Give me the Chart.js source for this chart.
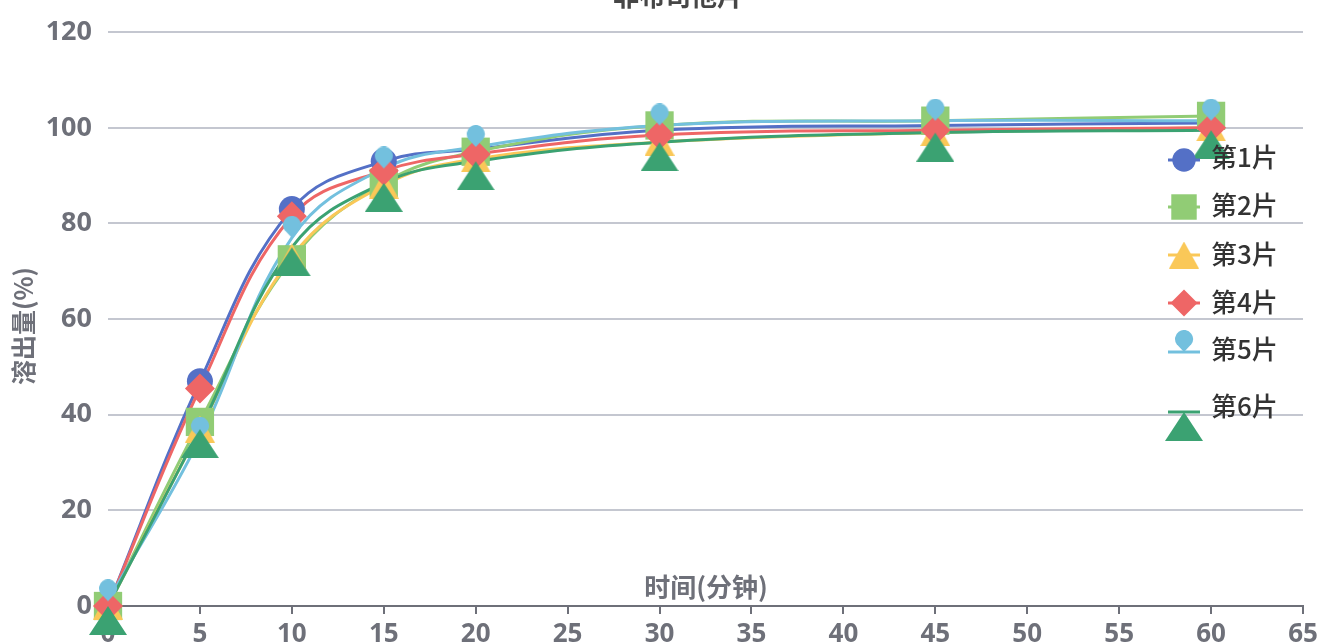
<!DOCTYPE html>
<html>
<head>
<meta charset="utf-8">
<script src="https://cdn.jsdelivr.net/npm/chart.js@4.4.0/dist/chart.umd.min.js"></script>
<style>
html, body { margin: 0; padding: 0; background: #fff; }
</style>
</head>
<body>
<canvas id="myChart" width="1323" height="644"></canvas>
<script>
// dissolution data
var times = [0, 5, 10, 15, 20, 30, 45, 60];
var seriesNames = ['第1片', '第2片', '第3片', '第4片', '第5片', '第6片'];
var tablet1 = [0, 47, 83, 93, 95.5, 99.5, 100.5, 101];
var tablet2 = [0, 38.5, 72.5, 88.5, 95, 100.5, 101.5, 102.5];
var tablet3 = [0, 37, 73, 88, 93.5, 97, 99, 100];
var tablet4 = [0, 45.5, 81.5, 91, 94.5, 98.5, 99.5, 100];
var tablet5 = [1, 35, 77, 91.5, 96, 100.5, 101.5, 101.5];
var tablet6 = [0, 37, 75, 88.5, 93, 97, 99, 99.5];
var allSeries = [tablet1, tablet2, tablet3, tablet4, tablet5, tablet6];

var titleText = '非布司他片';
var xTitle = '时间(分钟)';
var yTitle = '溶出量(%)';

var colors = ['#5470c6', '#91cc75', '#fac858', '#ee6666', '#73c0de', '#3ba272'];

// pin with its tip at the canvas centre
function makePin(color) {
    var c = document.createElement('canvas');
    c.width = 20;
    c.height = 44;
    var g = c.getContext('2d');
    g.fillStyle = color;
    g.beginPath();
    g.arc(10, 9, 9, Math.PI * 0.8, Math.PI * 2.2);
    g.lineTo(10, 22);
    g.closePath();
    g.fill();
    return c;
}

// triangle; apexAtCentre puts the tip on the data point (hangs below it)
function makeTriangle(color, w, h, apexAtCentre) {
    var c = document.createElement('canvas');
    c.width = w;
    c.height = apexAtCentre ? h * 2 : h;
    var top = apexAtCentre ? h : 0;
    var g = c.getContext('2d');
    g.fillStyle = color;
    g.beginPath();
    g.moveTo(w / 2, top);
    g.lineTo(w, top + h);
    g.lineTo(0, top + h);
    g.closePath();
    g.fill();
    return c;
}

var markerStyles = [
    'circle',
    'rect',
    makeTriangle(colors[2], 30, 27, false),
    'rectRot',
    makePin(colors[4]),
    makeTriangle(colors[5], 38, 29, true)
];
var markerRadius = [13, 20, 15, 15, 10, 20];

var datasets = [];
// lines first (underneath), then markers on top
allSeries.forEach(function (vals, i) {
    datasets.push({
        label: seriesNames[i],
        data: times.map(function (t, k) { return { x: t, y: vals[k] }; }),
        borderColor: colors[i],
        borderWidth: 3,
        tension: 0.4,
        pointRadius: 0,
        fill: false,
        clip: false,
        order: 20 - i
    });
});
allSeries.forEach(function (vals, i) {
    datasets.push({
        label: seriesNames[i] + '_pt',
        data: times.map(function (t, k) { return { x: t, y: vals[k] }; }),
        showLine: false,
        pointStyle: markerStyles[i],
        pointRadius: markerRadius[i],
        pointBackgroundColor: colors[i],
        pointBorderWidth: 0,
        clip: false,
        order: -i
    });
});

var decorPlugin = {
    id: 'decor',
    afterDraw: function (chart) {
        var c = chart.ctx;
        c.save();
        // title, cut off by the top edge
        c.fillStyle = '#464646';
        c.font = 'bold 26px "Noto Sans CJK SC"';
        c.textAlign = 'center';
        c.textBaseline = 'alphabetic';
        c.fillText(titleText, 678, 6);

        // x axis title inside the plot
        c.fillStyle = '#6e7079';
        c.font = 'bold 26px "Noto Sans CJK SC"';
        c.textBaseline = 'middle';
        c.fillText(xTitle, 706, 587);

        // y axis title
        c.save();
        c.translate(23, 326);
        c.rotate(-Math.PI / 2);
        c.font = 'bold 25px "Noto Sans CJK SC"';
        c.fillText(yTitle, 0, 0);
        c.restore();

        // legend
        var lineY = [160, 207, 255, 303, 352, 412];
        var textY = [157, 205, 254, 302, 349, 406];
        for (var i = 0; i < seriesNames.length; i++) {
            c.strokeStyle = colors[i];
            c.lineWidth = 3;
            c.beginPath();
            c.moveTo(1168, lineY[i]);
            c.lineTo(1200, lineY[i]);
            c.stroke();
            c.fillStyle = colors[i];
            Chart.helpers.drawPoint(c, {
                pointStyle: markerStyles[i],
                radius: markerRadius[i] * 0.9,
                rotation: 0,
                borderWidth: 0
            }, 1184, lineY[i]);
            c.fillStyle = '#333';
            c.font = '500 26px "Noto Sans CJK SC"';
            c.textAlign = 'left';
            c.textBaseline = 'middle';
            c.fillText(seriesNames[i], 1211, textY[i]);
        }
        c.restore();
    }
};

var ctx = document.getElementById('myChart').getContext('2d');
var myChart = new Chart(ctx, {
    type: 'line',
    data: { datasets: datasets },
    plugins: [decorPlugin],
    options: {
        responsive: false,
        animation: false,
        events: [],
        layout: { padding: { top: 23, right: 10, left: 0, bottom: 0 } },
        plugins: {
            legend: { display: false },
            title: { display: false },
            tooltip: { enabled: false }
        },
        scales: {
            x: {
                type: 'linear',
                min: 0,
                max: 65,
                afterFit: function (s) { s.height = 38; },
                ticks: {
                    stepSize: 5,
                    padding: 5,
                    color: '#6e7079',
                    font: { family: 'Noto Sans', weight: 'bold', size: 26 }
                },
                grid: {
                    drawOnChartArea: false,
                    drawTicks: true,
                    tickLength: 8,
                    color: '#6e7079',
                    lineWidth: 2
                },
                border: { color: '#6e7079', width: 2 }
            },
            y: {
                min: 0,
                max: 120,
                afterFit: function (s) { s.width = 108; },
                ticks: {
                    stepSize: 20,
                    padding: 16,
                    color: '#6e7079',
                    font: { family: 'Noto Sans', weight: 'bold', size: 27 }
                },
                grid: {
                    drawTicks: false,
                    color: '#c4c7d0',
                    lineWidth: 2
                },
                border: { display: false }
            }
        }
    }
});
</script>
</body>
</html>
